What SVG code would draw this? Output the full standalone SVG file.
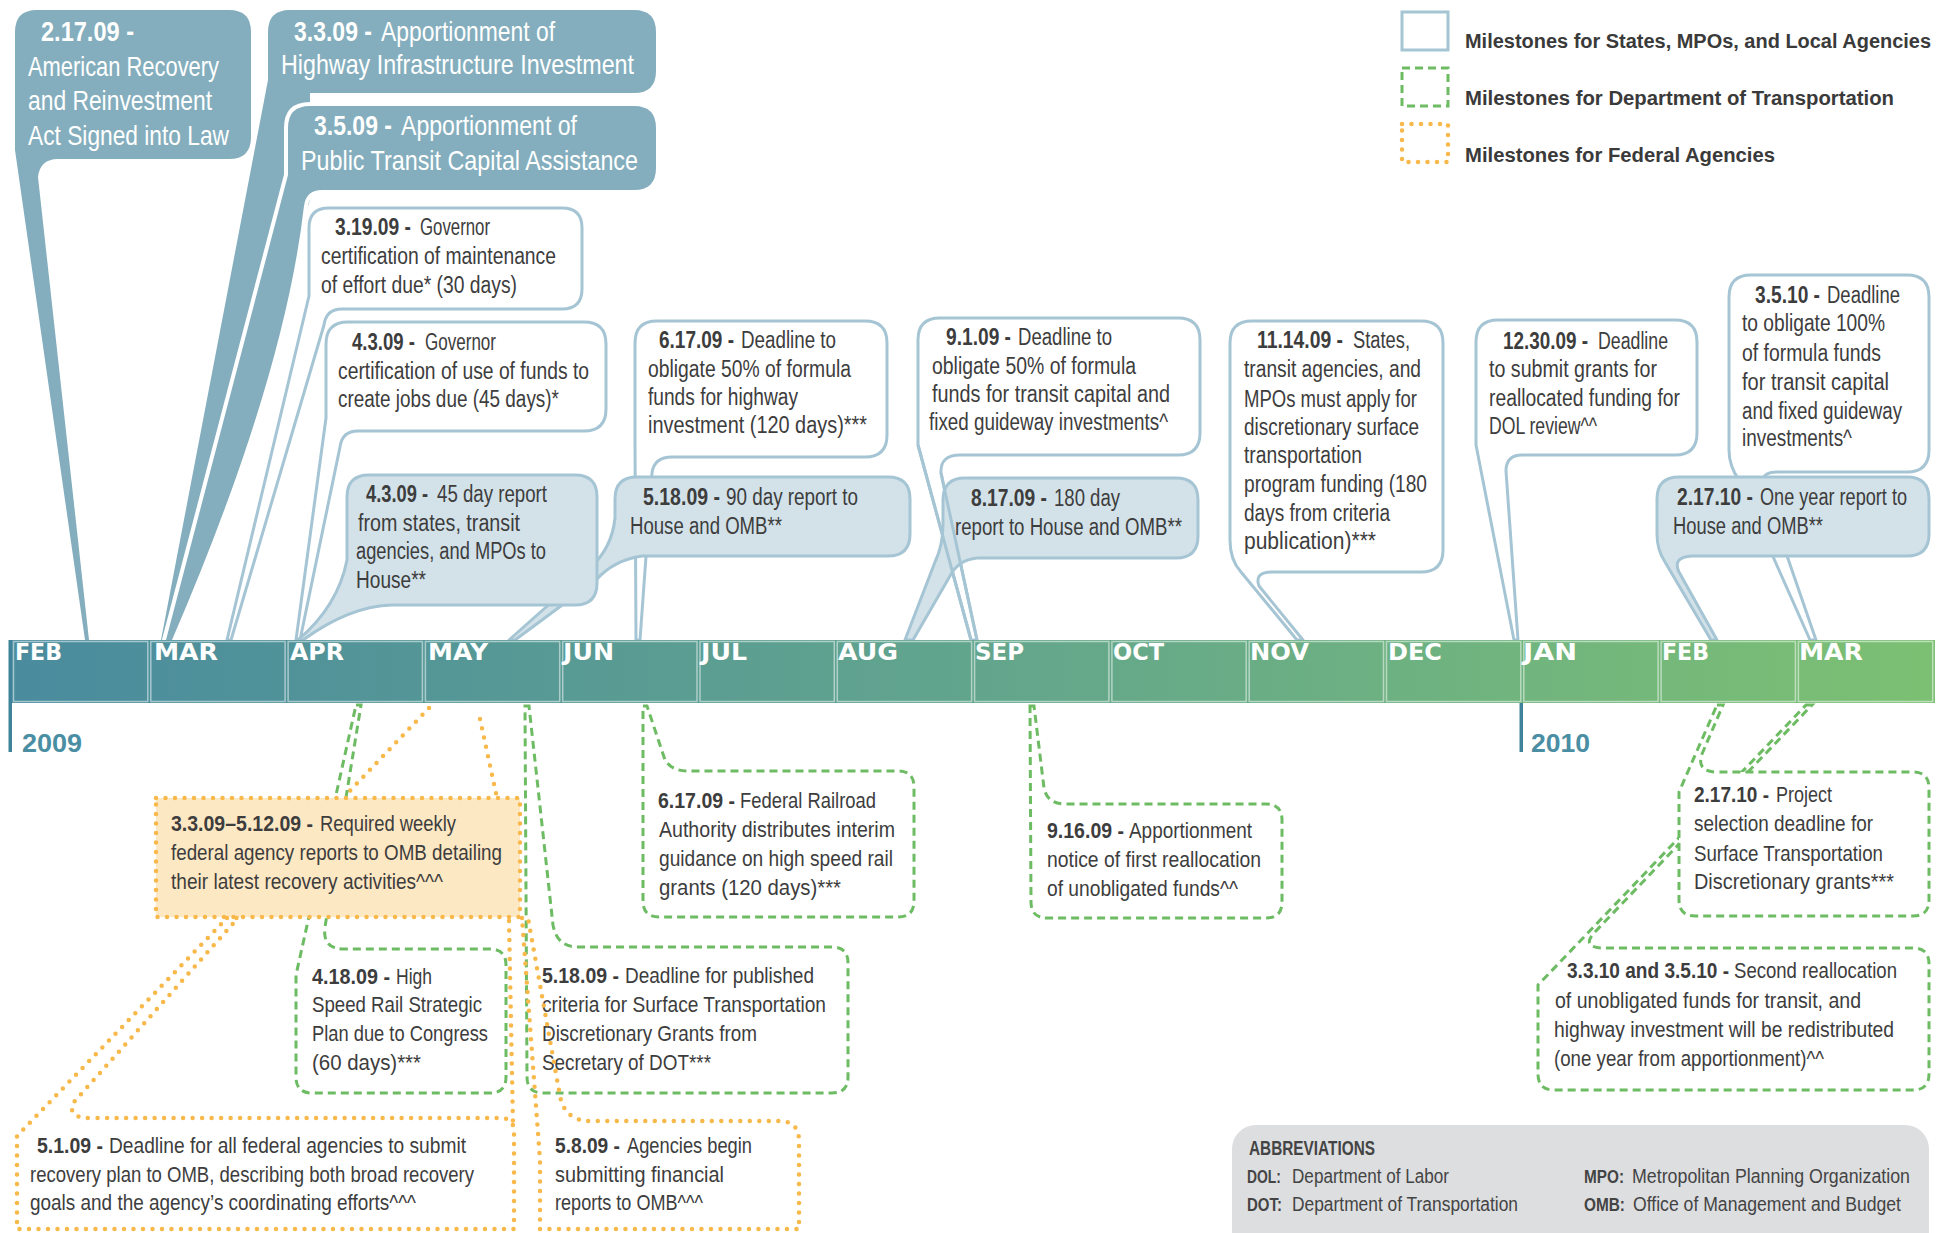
<svg xmlns="http://www.w3.org/2000/svg" width="1948" height="1233" viewBox="0 0 1948 1233">
<defs>
<linearGradient id="barg" x1="0" y1="0" x2="1" y2="0">
<stop offset="0" stop-color="#4a8b9e"/>
<stop offset="0.5" stop-color="#62a58d"/>
<stop offset="1" stop-color="#7cc073"/>
</linearGradient>
<style>
.t{font-family:"Liberation Sans","DejaVu Sans Condensed",sans-serif;font-size:23px;fill:#3d3d3d}
.g{font-size:21.5px}
.w{fill:#fff;font-size:28px}
.b{font-weight:bold}
.dark{fill:#84aebd;stroke:#fff;stroke-width:8;paint-order:stroke;stroke-linejoin:round}
.wc{fill:#fff;stroke:#a6c5d4;stroke-width:3;stroke-linejoin:round}
.lc{fill:#d3e2e9;stroke:#a6c5d4;stroke-width:3;stroke-linejoin:round}
.ln{fill:none;stroke:#a6c5d4;stroke-width:3}
.gd{fill:#fff;stroke:#6dbb63;stroke-width:3;stroke-dasharray:8 5}
.od{fill:none;stroke:#f8b84a;stroke-width:4.5;stroke-linecap:round;stroke-dasharray:0 9.5}
.mon{font-family:"DejaVu Sans","Liberation Sans",sans-serif;font-weight:bold;font-size:23.5px;fill:#fff}
.yr{font-family:"Liberation Sans","DejaVu Sans Condensed",sans-serif;font-weight:bold;font-size:26px;fill:#4a8ea3}
.leg{font-family:"Liberation Sans","DejaVu Sans Condensed",sans-serif;font-weight:bold;font-size:20px;fill:#3a3a3a}
.ab{font-size:20px;fill:#444}
.abk{font-size:18px}
.cell{fill:none;stroke:#fff;stroke-opacity:0.5;stroke-width:1.5}
</style>
</defs>
<rect width="1948" height="1233" fill="#fff"/>

<g id="legend">
<rect x="1402" y="12" width="46" height="38" fill="none" stroke="#a6c5d4" stroke-width="3"/>
<rect x="1402" y="68" width="46" height="38" fill="none" stroke="#6dbb63" stroke-width="3" stroke-dasharray="8 5"/>
<rect x="1402" y="124" width="46" height="38" class="od"/>
<text class="leg" x="1465" y="48" textLength="466" lengthAdjust="spacingAndGlyphs">Milestones for States, MPOs, and Local Agencies</text>
<text class="leg" x="1465" y="105" textLength="429" lengthAdjust="spacingAndGlyphs">Milestones for Department of Transportation</text>
<text class="leg" x="1465" y="162" textLength="310" lengthAdjust="spacingAndGlyphs">Milestones for Federal Agencies</text>
</g>

<g id="n-2-17-09">
<path class="dark" d="M37,10 H229 Q251,10 251,32 V137 Q251,159 229,159 H58 Q40,159 38,177 L89,640 L85,640 L15,150 V32 Q15,10 37,10 Z"/>
<text class="t w b" x="41" y="41" textLength="93" lengthAdjust="spacingAndGlyphs">2.17.09 -</text>
<text class="t w" x="28" y="75.5" textLength="191" lengthAdjust="spacingAndGlyphs">American Recovery</text>
<text class="t w" x="28" y="110" textLength="184" lengthAdjust="spacingAndGlyphs">and Reinvestment</text>
<text class="t w" x="28" y="145" textLength="201" lengthAdjust="spacingAndGlyphs">Act Signed into Law</text>
</g>
<g id="n-3-3-09">
<path class="dark" d="M290,10 H634 Q656,10 656,32 V71 Q656,93 634,93 H310 L310,200 L167,640 L161,640 L268,80 V32 Q268,10 290,10 Z"/>
<text class="t w b" x="294" y="41" textLength="78" lengthAdjust="spacingAndGlyphs">3.3.09 -</text>
<text class="t w" x="381" y="41" textLength="174" lengthAdjust="spacingAndGlyphs">Apportionment of</text>
<text class="t w" x="281" y="74" textLength="353" lengthAdjust="spacingAndGlyphs">Highway Infrastructure Investment</text>
</g>
<g id="n-3-5-09">
<path class="dark" d="M310,106 H634 Q656,106 656,128 V168 Q656,190 634,190 H322 Q306,190 304,206 Q284,380 172,640 L166,640 L288,175 V128 Q288,106 310,106 Z"/>
<text class="t w b" x="314" y="135" textLength="78" lengthAdjust="spacingAndGlyphs">3.5.09 -</text>
<text class="t w" x="401" y="135" textLength="176" lengthAdjust="spacingAndGlyphs">Apportionment of</text>
<text class="t w" x="301" y="170" textLength="337" lengthAdjust="spacingAndGlyphs">Public Transit Capital Assistance</text>
</g>

<g id="n-3-19-09">
<path class="wc" d="M329,208 H562 Q582,208 582,228 V289 Q582,309 562,309 H342 Q326,309 324,325 L231,640 L227,640 L309,296 V228 Q309,208 329,208 Z"/>
<text class="t b" x="335" y="235" font-size="21.5" textLength="76" lengthAdjust="spacingAndGlyphs">3.19.09 -</text>
<text class="t" x="420" y="235" textLength="70" lengthAdjust="spacingAndGlyphs">Governor</text>
<text class="t" x="321" y="264" textLength="235" lengthAdjust="spacingAndGlyphs">certification of maintenance</text>
<text class="t" x="321" y="293" textLength="196" lengthAdjust="spacingAndGlyphs">of effort due* (30 days)</text>
</g>
<g id="n-4-3-09-gov">
<path class="wc" d="M348,322 H584 Q606,322 606,344 V409 Q606,431 584,431 H358 Q342,431 340,447 L300,640 L296,640 L326,418 V344 Q326,322 348,322 Z"/>
<text class="t b" x="352" y="350" font-size="21.5" textLength="63" lengthAdjust="spacingAndGlyphs">4.3.09 -</text>
<text class="t" x="425" y="350" textLength="71" lengthAdjust="spacingAndGlyphs">Governor</text>
<text class="t" x="338" y="379" textLength="251" lengthAdjust="spacingAndGlyphs">certification of use of funds to</text>
<text class="t" x="338" y="407" textLength="221" lengthAdjust="spacingAndGlyphs">create jobs due (45 days)*</text>
</g>
<g id="n-6-17-09">
<path class="wc" d="M657,321 H865 Q887,321 887,343 V435 Q887,457 865,457 H672 Q654,457 652,473 L640,640 L636,640 L635,445 V343 Q635,321 657,321 Z"/>
<text class="t b" x="659" y="348" textLength="75" lengthAdjust="spacingAndGlyphs">6.17.09 -</text>
<text class="t" x="741" y="348" textLength="95" lengthAdjust="spacingAndGlyphs">Deadline to</text>
<text class="t" x="648" y="377" textLength="203" lengthAdjust="spacingAndGlyphs">obligate 50% of formula</text>
<text class="t" x="648" y="405" textLength="150" lengthAdjust="spacingAndGlyphs">funds for highway</text>
<text class="t" x="648" y="433" textLength="219" lengthAdjust="spacingAndGlyphs">investment (120 days)***</text>
</g>
<g id="n-5-18-09-report">
<path class="lc" d="M637,477 H888 Q910,477 910,499 V534 Q910,556 888,556 H642 Q614,560 596,580 L515,640 L509,640 L590,568 Q612,548 615,518 V499 Q615,477 637,477 Z"/>
<text class="t b" x="643" y="505" textLength="77" lengthAdjust="spacingAndGlyphs">5.18.09 -</text>
<text class="t" x="726" y="505" textLength="132" lengthAdjust="spacingAndGlyphs">90 day report to</text>
<text class="t" x="630" y="534" textLength="152" lengthAdjust="spacingAndGlyphs">House and OMB**</text>
</g>
<g id="n-4-3-09-report">
<path class="lc" d="M369,475 H575 Q597,475 597,497 V583 Q597,605 575,605 H392 Q350,606 303,640 L298,640 Q338,606 347,560 V497 Q347,475 369,475 Z"/>
<text class="t b" x="366" y="502" textLength="62" lengthAdjust="spacingAndGlyphs">4.3.09 -</text>
<text class="t" x="437" y="502" textLength="110" lengthAdjust="spacingAndGlyphs">45 day report</text>
<text class="t" x="358" y="531" textLength="162" lengthAdjust="spacingAndGlyphs">from states, transit</text>
<text class="t" x="356" y="559" textLength="190" lengthAdjust="spacingAndGlyphs">agencies, and MPOs to</text>
<text class="t" x="356" y="588" textLength="70" lengthAdjust="spacingAndGlyphs">House**</text>
</g>
<g id="n-9-1-09">
<path class="wc" d="M940,318 H1178 Q1200,318 1200,340 V433 Q1200,455 1178,455 H960 Q940,455 941,473 L977,640 L971,640 L918,445 V340 Q918,318 940,318 Z"/>
<text class="t b" x="946" y="345" textLength="65" lengthAdjust="spacingAndGlyphs">9.1.09 -</text>
<text class="t" x="1018" y="345" textLength="94" lengthAdjust="spacingAndGlyphs">Deadline to</text>
<text class="t" x="932" y="374" textLength="204" lengthAdjust="spacingAndGlyphs">obligate 50% of formula</text>
<text class="t" x="932" y="402" textLength="238" lengthAdjust="spacingAndGlyphs">funds for transit capital and</text>
<text class="t" x="929" y="430" textLength="239" lengthAdjust="spacingAndGlyphs">fixed guideway investments^</text>
</g>
<g id="n-8-17-09">
<path class="lc" d="M965,478 H1176 Q1198,478 1198,500 V536 Q1198,558 1176,558 H977 Q958,560 950,576 L913,640 L905,640 L935,562 Q943,545 943,525 V500 Q943,478 965,478 Z"/>
<text class="t b" x="971" y="506" textLength="76" lengthAdjust="spacingAndGlyphs">8.17.09 -</text>
<text class="t" x="1054" y="506" textLength="66" lengthAdjust="spacingAndGlyphs">180 day</text>
<text class="t" x="955" y="535" textLength="227" lengthAdjust="spacingAndGlyphs">report to House and OMB**</text>
</g>
<g id="n-11-14-09">
<path class="wc" d="M1252,321 H1421 Q1443,321 1443,343 V550 Q1443,572 1421,572 H1272 Q1254,572 1259,586 L1303,640 L1297,640 L1241,572 Q1230,560 1230,540 V343 Q1230,321 1252,321 Z"/>
<text class="t b" x="1257" y="348" font-size="21.5" textLength="86" lengthAdjust="spacingAndGlyphs">11.14.09 -</text>
<text class="t" x="1353" y="348" textLength="57" lengthAdjust="spacingAndGlyphs">States,</text>
<text class="t" x="1244" y="377" textLength="177" lengthAdjust="spacingAndGlyphs">transit agencies, and</text>
<text class="t" x="1244" y="407" textLength="173" lengthAdjust="spacingAndGlyphs">MPOs must apply for</text>
<text class="t" x="1244" y="435" textLength="175" lengthAdjust="spacingAndGlyphs">discretionary surface</text>
<text class="t" x="1244" y="463" textLength="118" lengthAdjust="spacingAndGlyphs">transportation</text>
<text class="t" x="1244" y="492" textLength="183" lengthAdjust="spacingAndGlyphs">program funding (180</text>
<text class="t" x="1244" y="521" textLength="146" lengthAdjust="spacingAndGlyphs">days from criteria</text>
<text class="t" x="1244" y="549" textLength="132" lengthAdjust="spacingAndGlyphs">publication)***</text>
</g>
<g id="n-12-30-09">
<path class="wc" d="M1498,320 H1675 Q1697,320 1697,342 V433 Q1697,455 1675,455 H1522 Q1506,455 1506,471 L1518,640 L1514,640 L1476,445 V342 Q1476,320 1498,320 Z"/>
<text class="t b" x="1503" y="349" font-size="21.5" textLength="85" lengthAdjust="spacingAndGlyphs">12.30.09 -</text>
<text class="t" x="1598" y="349" textLength="70" lengthAdjust="spacingAndGlyphs">Deadline</text>
<text class="t" x="1489" y="377" textLength="168" lengthAdjust="spacingAndGlyphs">to submit grants for</text>
<text class="t" x="1489" y="406" textLength="191" lengthAdjust="spacingAndGlyphs">reallocated funding for</text>
<text class="t" x="1489" y="434" textLength="108" lengthAdjust="spacingAndGlyphs">DOL review^^</text>
</g>
<g id="n-3-5-10">
<path class="wc" d="M1751,275 H1907 Q1929,275 1929,297 V450 Q1929,472 1907,472 H1777 Q1760,472 1763,486 L1816,640 L1810,640 L1739,480 Q1729,466 1729,450 V297 Q1729,275 1751,275 Z"/>
<text class="t b" x="1755" y="303" textLength="65" lengthAdjust="spacingAndGlyphs">3.5.10 -</text>
<text class="t" x="1827" y="303" textLength="73" lengthAdjust="spacingAndGlyphs">Deadline</text>
<text class="t" x="1742" y="331" textLength="143" lengthAdjust="spacingAndGlyphs">to obligate 100%</text>
<text class="t" x="1742" y="361" textLength="139" lengthAdjust="spacingAndGlyphs">of formula funds</text>
<text class="t" x="1742" y="390" textLength="147" lengthAdjust="spacingAndGlyphs">for transit capital</text>
<text class="t" x="1742" y="419" textLength="160" lengthAdjust="spacingAndGlyphs">and fixed guideway</text>
<text class="t" x="1742" y="446" textLength="110" lengthAdjust="spacingAndGlyphs">investments^</text>
</g>
<g id="n-2-17-10-report">
<path class="lc" d="M1679,477 H1907 Q1929,477 1929,499 V534 Q1929,556 1907,556 H1692 Q1672,557 1679,572 L1717,640 L1711,640 L1665,562 Q1657,550 1657,534 V499 Q1657,477 1679,477 Z"/>
<text class="t b" x="1677" y="505" textLength="76" lengthAdjust="spacingAndGlyphs">2.17.10 -</text>
<text class="t" x="1760" y="505" textLength="147" lengthAdjust="spacingAndGlyphs">One year report to</text>
<text class="t" x="1673" y="534" textLength="150" lengthAdjust="spacingAndGlyphs">House and OMB**</text>
</g>

<g id="timeline">
<rect x="9" y="640" width="1926" height="63" fill="url(#barg)"/>
<rect class="cell" x="13.5" y="641.5" width="134.3" height="60"/>
<rect class="cell" x="150.8" y="641.5" width="134.3" height="60"/>
<rect class="cell" x="288.1" y="641.5" width="134.3" height="60"/>
<rect class="cell" x="425.4" y="641.5" width="134.3" height="60"/>
<rect class="cell" x="562.7" y="641.5" width="134.3" height="60"/>
<rect class="cell" x="700" y="641.5" width="134.3" height="60"/>
<rect class="cell" x="837.3" y="641.5" width="134.3" height="60"/>
<rect class="cell" x="974.6" y="641.5" width="134.3" height="60"/>
<rect class="cell" x="1111.9" y="641.5" width="134.3" height="60"/>
<rect class="cell" x="1249.2" y="641.5" width="134.3" height="60"/>
<rect class="cell" x="1386.5" y="641.5" width="134.3" height="60"/>
<rect class="cell" x="1523.8" y="641.5" width="134.3" height="60"/>
<rect class="cell" x="1661.1" y="641.5" width="134.3" height="60"/>
<rect class="cell" x="1798.4" y="641.5" width="134.3" height="60"/>
<text class="mon" x="15" y="660" textLength="47" lengthAdjust="spacingAndGlyphs">FEB</text>
<text class="mon" x="154" y="660" textLength="64" lengthAdjust="spacingAndGlyphs">MAR</text>
<text class="mon" x="290" y="660" textLength="54" lengthAdjust="spacingAndGlyphs">APR</text>
<text class="mon" x="428" y="660" textLength="60" lengthAdjust="spacingAndGlyphs">MAY</text>
<text class="mon" x="563" y="660" textLength="51" lengthAdjust="spacingAndGlyphs">JUN</text>
<text class="mon" x="701" y="660" textLength="46" lengthAdjust="spacingAndGlyphs">JUL</text>
<text class="mon" x="838" y="660" textLength="60" lengthAdjust="spacingAndGlyphs">AUG</text>
<text class="mon" x="975" y="660" textLength="49" lengthAdjust="spacingAndGlyphs">SEP</text>
<text class="mon" x="1113" y="660" textLength="51" lengthAdjust="spacingAndGlyphs">OCT</text>
<text class="mon" x="1250" y="660" textLength="59" lengthAdjust="spacingAndGlyphs">NOV</text>
<text class="mon" x="1388" y="660" textLength="54" lengthAdjust="spacingAndGlyphs">DEC</text>
<text class="mon" x="1523" y="660" textLength="54" lengthAdjust="spacingAndGlyphs">JAN</text>
<text class="mon" x="1662" y="660" textLength="47" lengthAdjust="spacingAndGlyphs">FEB</text>
<text class="mon" x="1799" y="660" textLength="64" lengthAdjust="spacingAndGlyphs">MAR</text>
<rect x="8.5" y="640" width="3.5" height="112" fill="#3e8399"/>
<rect x="1519.5" y="703" width="3.5" height="49" fill="#3e8399"/>
<text class="yr" x="22" y="752" textLength="60" lengthAdjust="spacingAndGlyphs">2009</text>
<text class="yr" x="1531" y="752" textLength="59" lengthAdjust="spacingAndGlyphs">2010</text>
</g>

<g id="connectors">
<path class="ln" d="M918,445 L971,640 M941,473 L977,640"/>
<path class="od" d="M429,708 L343,798 M480,719 L497,798 M509,921 L513,1125"/>
</g>

<g id="n-6-17-09-fra">
<path class="gd" d="M643,706 L647,706 L664,757 Q669,771 688,771 H898 Q914,771 914,787 V901 Q914,917 898,917 H659 Q643,917 643,901 Z"/>
<text class="t g b" x="658" y="808" textLength="77" lengthAdjust="spacingAndGlyphs">6.17.09 -</text>
<text class="t g" x="740" y="808" textLength="136" lengthAdjust="spacingAndGlyphs">Federal Railroad</text>
<text class="t g" x="659" y="837" textLength="236" lengthAdjust="spacingAndGlyphs">Authority distributes interim</text>
<text class="t g" x="659" y="866" textLength="234" lengthAdjust="spacingAndGlyphs">guidance on high speed rail</text>
<text class="t g" x="659" y="895" textLength="182" lengthAdjust="spacingAndGlyphs">grants (120 days)***</text>
</g>
<g id="n-4-18-09">
<path class="gd" d="M356,705 L361,705 L325,927 Q322,949 344,949 H490 Q506,949 506,965 V1077 Q506,1093 490,1093 H312 Q296,1093 296,1077 V975 Z"/>
<text class="t g b" x="312" y="984" textLength="78" lengthAdjust="spacingAndGlyphs">4.18.09 -</text>
<text class="t g" x="396" y="984" textLength="36" lengthAdjust="spacingAndGlyphs">High</text>
<text class="t g" x="312" y="1012" textLength="170" lengthAdjust="spacingAndGlyphs">Speed Rail Strategic</text>
<text class="t g" x="312" y="1041" textLength="176" lengthAdjust="spacingAndGlyphs">Plan due to Congress</text>
<text class="t g" x="312" y="1070" textLength="109" lengthAdjust="spacingAndGlyphs">(60 days)***</text>
</g>
<g id="n-5-18-09-criteria">
<path class="gd" d="M525,706 L529,706 L553,925 Q557,947 578,947 H832 Q848,947 848,963 V1077 Q848,1093 832,1093 H543 Q527,1093 527,1077 Z"/>
<text class="t g b" x="542" y="983" textLength="77" lengthAdjust="spacingAndGlyphs">5.18.09 -</text>
<text class="t g" x="625" y="983" textLength="189" lengthAdjust="spacingAndGlyphs">Deadline for published</text>
<text class="t g" x="542" y="1012" textLength="284" lengthAdjust="spacingAndGlyphs">criteria for Surface Transportation</text>
<text class="t g" x="542" y="1041" textLength="215" lengthAdjust="spacingAndGlyphs">Discretionary Grants from</text>
<text class="t g" x="542" y="1070" textLength="169" lengthAdjust="spacingAndGlyphs">Secretary of DOT***</text>
</g>
<g id="n-9-16-09">
<path class="gd" d="M1030,706 L1034,706 L1044,788 Q1047,804 1066,804 H1266 Q1282,804 1282,820 V902 Q1282,918 1266,918 H1047 Q1031,918 1031,902 Z"/>
<text class="t g b" x="1047" y="838" textLength="77" lengthAdjust="spacingAndGlyphs">9.16.09 -</text>
<text class="t g" x="1129" y="838" textLength="123" lengthAdjust="spacingAndGlyphs">Apportionment</text>
<text class="t g" x="1047" y="867" textLength="214" lengthAdjust="spacingAndGlyphs">notice of first reallocation</text>
<text class="t g" x="1047" y="896" textLength="191" lengthAdjust="spacingAndGlyphs">of unobligated funds^^</text>
</g>
<g id="n-3-3-10">
<path class="gd" d="M1806,705 L1812,705 L1593,934 Q1582,948 1604,948 H1913 Q1929,948 1929,964 V1074 Q1929,1090 1913,1090 H1554 Q1538,1090 1538,1074 V985 Z"/>
<text class="t g b" x="1567" y="978" textLength="162" lengthAdjust="spacingAndGlyphs">3.3.10 and 3.5.10 -</text>
<text class="t g" x="1734" y="978" textLength="163" lengthAdjust="spacingAndGlyphs">Second reallocation</text>
<text class="t g" x="1555" y="1008" textLength="306" lengthAdjust="spacingAndGlyphs">of unobligated funds for transit, and</text>
<text class="t g" x="1554" y="1037" textLength="340" lengthAdjust="spacingAndGlyphs">highway investment will be redistributed</text>
<text class="t g" x="1554" y="1066" textLength="270" lengthAdjust="spacingAndGlyphs">(one year from apportionment)^^</text>
</g>
<g id="n-2-17-10-project">
<path class="gd" d="M1717,705 L1723,705 L1702,754 Q1696,772 1717,772 H1913 Q1929,772 1929,788 V900 Q1929,916 1913,916 H1695 Q1679,916 1679,900 V792 Z"/>
<text class="t g b" x="1694" y="802" textLength="75" lengthAdjust="spacingAndGlyphs">2.17.10 -</text>
<text class="t g" x="1776" y="802" textLength="56" lengthAdjust="spacingAndGlyphs">Project</text>
<text class="t g" x="1694" y="831" textLength="179" lengthAdjust="spacingAndGlyphs">selection deadline for</text>
<text class="t g" x="1694" y="861" textLength="189" lengthAdjust="spacingAndGlyphs">Surface Transportation</text>
<text class="t g" x="1694" y="889" textLength="200" lengthAdjust="spacingAndGlyphs">Discretionary grants***</text>
</g>

<g id="n-3-3-09-weekly">
<rect x="156" y="798" width="364" height="119" fill="#fde8c4"/>
<rect class="od" x="156" y="798" width="364" height="119"/>
<text class="t g b" x="171" y="831" textLength="142" lengthAdjust="spacingAndGlyphs">3.3.09–5.12.09 -</text>
<text class="t g" x="320" y="831" textLength="136" lengthAdjust="spacingAndGlyphs">Required weekly</text>
<text class="t g" x="171" y="860" textLength="331" lengthAdjust="spacingAndGlyphs">federal agency reports to OMB detailing</text>
<text class="t g" x="171" y="889" textLength="272" lengthAdjust="spacingAndGlyphs">their latest recovery activities^^^</text>
</g>
<g id="n-5-1-09">
<path class="od" d="M227,918 L238,918 L74,1102 Q66,1118 90,1118 H500 Q514,1118 514,1132 V1229 H17 V1136 Z"/>
<text class="t g b" x="37" y="1153" textLength="66" lengthAdjust="spacingAndGlyphs">5.1.09 -</text>
<text class="t g" x="109" y="1153" textLength="357" lengthAdjust="spacingAndGlyphs">Deadline for all federal agencies to submit</text>
<text class="t g" x="30" y="1182" textLength="444" lengthAdjust="spacingAndGlyphs">recovery plan to OMB, describing both broad recovery</text>
<text class="t g" x="30" y="1210" textLength="386" lengthAdjust="spacingAndGlyphs">goals and the agency’s coordinating efforts^^^</text>
</g>
<g id="n-5-8-09">
<path class="od" d="M522,918 L528,918 L560,1096 Q565,1121 590,1121 H779 Q799,1121 799,1141 V1229 H540 V1160 Z"/>
<text class="t g b" x="555" y="1153" textLength="65" lengthAdjust="spacingAndGlyphs">5.8.09 -</text>
<text class="t g" x="627" y="1153" textLength="125" lengthAdjust="spacingAndGlyphs">Agencies begin</text>
<text class="t g" x="555" y="1182" textLength="169" lengthAdjust="spacingAndGlyphs">submitting financial</text>
<text class="t g" x="555" y="1210" textLength="148" lengthAdjust="spacingAndGlyphs">reports to OMB^^^</text>
</g>

<g id="abbreviations">
<rect x="1232" y="1125" width="697" height="140" rx="24" fill="#dddee0"/>
<text class="t ab b" x="1249" y="1155" textLength="126" lengthAdjust="spacingAndGlyphs">ABBREVIATIONS</text>
<text class="t ab abk b" x="1247" y="1183" textLength="34" lengthAdjust="spacingAndGlyphs">DOL:</text>
<text class="t ab" x="1292" y="1183" textLength="157" lengthAdjust="spacingAndGlyphs">Department of Labor</text>
<text class="t ab abk b" x="1247" y="1211" textLength="35" lengthAdjust="spacingAndGlyphs">DOT:</text>
<text class="t ab" x="1292" y="1211" textLength="226" lengthAdjust="spacingAndGlyphs">Department of Transportation</text>
<text class="t ab abk b" x="1584" y="1183" textLength="40" lengthAdjust="spacingAndGlyphs">MPO:</text>
<text class="t ab" x="1632" y="1183" textLength="278" lengthAdjust="spacingAndGlyphs">Metropolitan Planning Organization</text>
<text class="t ab abk b" x="1584" y="1211" textLength="41" lengthAdjust="spacingAndGlyphs">OMB:</text>
<text class="t ab" x="1633" y="1211" textLength="268" lengthAdjust="spacingAndGlyphs">Office of Management and Budget</text>
</g>
</svg>
